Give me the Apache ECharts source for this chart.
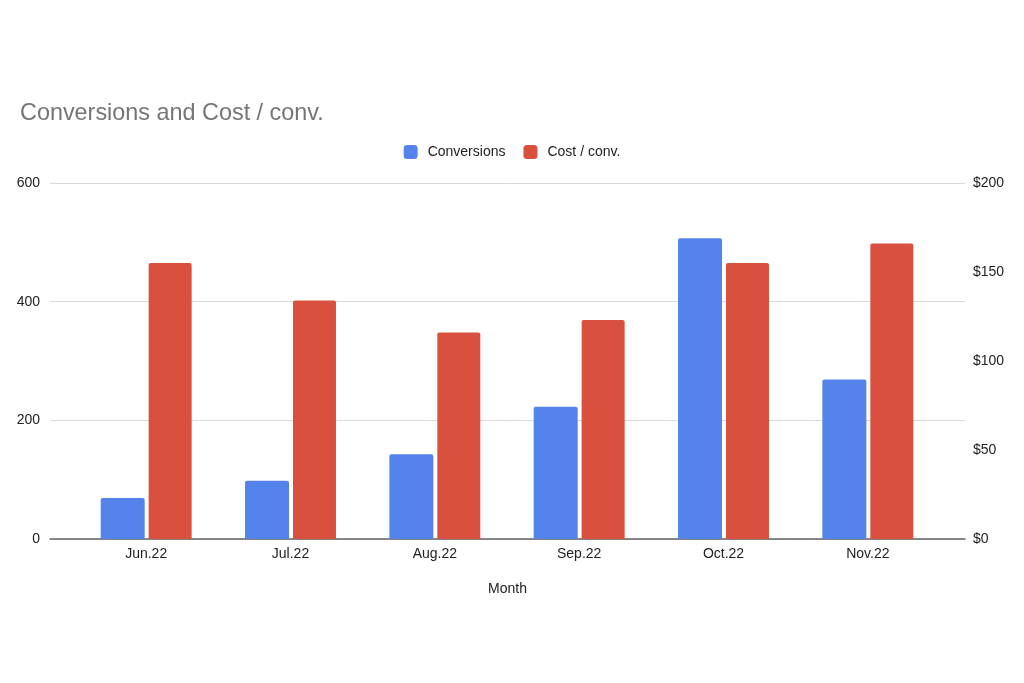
<!DOCTYPE html>
<html>
<head>
<meta charset="utf-8">
<script src="https://cdn.jsdelivr.net/npm/echarts@6/dist/echarts.min.js"></script>
<style>html,body{margin:0;padding:0;background:#fff}#c{width:1024px;height:683px}</style>
</head>
<body>
<div id="c"></div>
<script>
const categories = ['Jun.22', 'Jul.22', 'Aug.22', 'Sep.22', 'Oct.22', 'Nov.22'];
const conversions = [69, 98, 143, 223, 507, 269];
const costPerConv = [155, 134, 116, 123, 155, 166];
const leftTicks = [0, 600, 200];   // min, max, interval
const rightTicks = [0, 200, 50];

const chart = echarts.init(document.getElementById('c'));
const font = '"Liberation Sans", Arial, Helvetica, sans-serif';
chart.setOption({
  animation: false,
  textStyle: { fontFamily: font },
  title: {
    text: 'Conversions and Cost / conv.',
    left: 15, top: 97,
    textStyle: { fontSize: 23.4, fontWeight: 'normal', color: '#757575', fontFamily: font }
  },
  legend: {
    data: ['Conversions', 'Cost / conv.'],
    left: 'center', top: 140,
    itemWidth: 14, itemHeight: 14, itemGap: 18,
    icon: 'roundRect',
    textStyle: { fontSize: 14, color: '#222', fontFamily: font, padding: [0, 0, 0, 5] }
  },
  grid: [
    { left: 50, right: 59, top: 183, bottom: 144 },
    { left: 74, right: 84, top: 183, bottom: 144 }
  ],
  xAxis: [
    {
      type: 'category', gridIndex: 0, data: categories,
      axisLine: { lineStyle: { color: '#666', width: 1.5 } },
      axisTick: { show: false }, axisLabel: { show: false },
      name: 'Month', nameLocation: 'middle', nameGap: 43,
      nameTextStyle: { fontSize: 14, color: '#222', fontFamily: font }
    },
    {
      type: 'category', gridIndex: 1, data: categories,
      axisLine: { show: false }, axisTick: { show: false },
      axisLabel: { fontSize: 14, color: '#222', margin: 8, fontFamily: font }
    }
  ],
  yAxis: [
    {
      type: 'value', gridIndex: 0, position: 'left',
      min: leftTicks[0], max: leftTicks[1], interval: leftTicks[2],
      axisLine: { show: false }, axisTick: { show: false },
      axisLabel: { fontSize: 14, color: '#222', margin: 10, fontFamily: font },
      splitLine: { lineStyle: { color: '#d9d9d9', width: 1 } }
    },
    {
      type: 'value', gridIndex: 0, position: 'right',
      min: rightTicks[0], max: rightTicks[1], interval: rightTicks[2],
      axisLine: { show: false }, axisTick: { show: false },
      axisLabel: { fontSize: 14, color: '#222', margin: 8, formatter: v => '$' + v, fontFamily: font },
      splitLine: { show: false }
    },
    {
      type: 'value', gridIndex: 1, min: leftTicks[0], max: leftTicks[1],
      show: false, splitLine: { show: false }
    },
    {
      type: 'value', gridIndex: 1, min: rightTicks[0], max: rightTicks[1],
      show: false, splitLine: { show: false }
    }
  ],
  series: [
    {
      name: 'Conversions', type: 'bar', xAxisIndex: 1, yAxisIndex: 2,
      data: conversions, barWidth: 44, barGap: '9%',
      itemStyle: { color: '#5484EB', borderRadius: [2, 2, 0, 0] }
    },
    {
      name: 'Cost / conv.', type: 'bar', xAxisIndex: 1, yAxisIndex: 3,
      data: costPerConv, barWidth: 43, barGap: '9%',
      itemStyle: { color: '#D9503F', borderRadius: [2, 2, 0, 0] }
    }
  ]
});
</script>
</body>
</html>
